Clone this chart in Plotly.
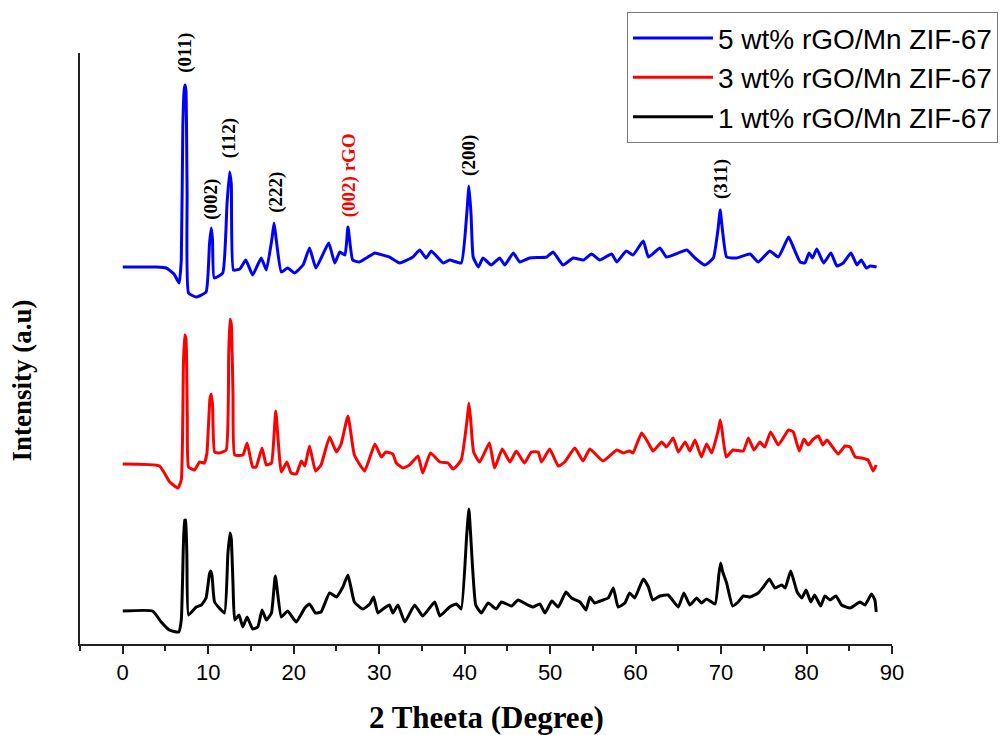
import plotly.graph_objects as go

# ---------------- data (2θ in degrees, intensity in a.u., stacked offsets included) -------------
theta_5 = [0.0, 3.9, 5.1, 6.0, 6.6, 6.85, 7.03, 7.2, 7.3, 7.4, 7.53, 7.7, 8.6, 9.75, 10.15, 10.35, 10.5, 10.7,
           11.7, 12.2, 12.5, 12.7, 12.95, 13.7, 14.4, 15.2, 16.2, 16.8, 17.45, 17.7, 17.95, 18.55, 19.3, 20.1,
           21.1, 21.85, 22.6, 24.1, 24.8, 25.4, 26.0, 26.35, 26.9, 27.7, 28.5, 29.5, 30.4, 31.2, 32.4, 33.95,
           34.75, 35.5, 36.1, 37.5, 38.25, 39.6, 40.25, 40.5, 40.75, 41.0, 41.6, 42.15, 43.1, 44.1, 44.7, 45.7,
           46.45, 47.6, 49.6, 50.35, 51.5, 52.7, 53.9, 54.85, 55.8, 57.2, 57.8, 58.9, 59.7, 60.9, 61.5, 62.85,
           63.6, 64.4, 66.0, 66.95, 68.1, 69.1, 69.65, 69.9, 70.15, 70.65, 71.8, 73.4, 74.35, 75.7, 76.7, 77.9,
           78.45, 79.25, 79.8, 80.3, 80.7, 81.2, 82.0, 82.85, 83.55, 84.3, 85.2, 85.9, 86.4, 87.0, 87.45, 88.2]
int_5 = [377, 377, 376, 370, 361, 384, 517, 555, 559, 553, 451, 351, 347, 352, 400, 416, 405, 366,
         371, 440, 472, 460, 374, 375, 384, 369, 386, 374, 405, 421, 405, 372, 376, 371,
         379, 396, 376, 401, 381, 392, 389, 417, 384, 382, 386, 391, 389, 387, 381, 387,
         394, 386, 393, 381, 384, 381, 430, 458, 430, 387, 377, 386, 379, 386, 379, 391,
         382, 386, 387, 392, 379, 386, 384, 390, 384, 390, 382, 393, 389, 403, 387, 396,
         387, 389, 394, 386, 379, 386, 415, 434, 415, 387, 386, 390, 382, 393, 387, 407,
         397, 382, 381, 391, 386, 395, 381, 391, 378, 381, 391, 379, 384, 376, 378, 377]

theta_3 = [0.0, 4.3, 5.5, 6.45, 6.85, 7.1, 7.25, 7.4, 7.55, 7.7, 8.4, 9.0, 9.55, 9.85, 10.2, 10.35, 10.5,
           10.75, 11.3, 12.1, 12.4, 12.55, 12.7, 12.9, 13.1, 14.05, 14.55, 15.2, 15.6, 16.3, 16.8, 17.4,
           17.9, 18.55, 19.2, 19.7, 20.3, 20.9, 21.3, 21.85, 22.55, 23.2, 24.2, 25.0, 25.55, 26.35, 27.1,
           28.3, 29.5, 30.25, 30.8, 31.6, 32.0, 32.8, 33.55, 34.55, 35.1, 36.0, 37.1, 38.05, 38.65, 39.6,
           40.3, 40.5, 40.7, 41.05, 41.75, 42.9, 43.5, 44.4, 45.3, 46.05, 47.0, 47.8, 48.6, 49.0, 49.95,
           50.95, 51.7, 52.9, 53.85, 54.65, 56.2, 57.8, 58.55, 59.3, 59.7, 60.7, 61.5, 62.05, 63.05, 63.6,
           64.4, 65.0, 65.8, 66.35, 66.95, 67.7, 68.3, 68.9, 69.7, 69.9, 70.1, 70.6, 71.4, 72.6, 73.2,
           73.85, 74.55, 75.1, 75.8, 76.7, 77.9, 78.45, 79.15, 79.7, 80.2, 80.8, 81.4, 81.9, 82.4, 83.7,
           84.5, 85.1, 85.7, 86.45, 87.2, 87.8, 88.15]
int_3 = [180, 178, 162, 156, 164, 280, 309, 305, 230, 177, 174, 182, 181, 191, 245, 250, 240,
         192, 191, 194, 290, 325, 320, 250, 189, 189, 201, 177, 177, 196, 179, 181,
         233, 172, 182, 171, 170, 183, 178, 198, 173, 179, 207, 192, 200, 228, 189,
         173, 200, 187, 192, 190, 181, 176, 179, 188, 171, 191, 182, 181, 175, 184,
         225, 241, 225, 192, 182, 201, 176, 195, 182, 193, 181, 192, 192, 182, 195,
         178, 182, 196, 183, 195, 183, 194, 191, 193, 191, 211, 201, 193, 202, 197,
         206, 192, 202, 193, 204, 187, 200, 191, 215, 224, 215, 187, 194, 193, 206,
         194, 202, 197, 212, 199, 214, 212, 193, 205, 199, 205, 208, 199, 204, 190,
         198, 197, 187, 186, 184, 173, 179]

theta_1 = [0.0, 3.5, 4.5, 5.45, 6.55, 6.85, 7.1, 7.25, 7.35, 7.5, 7.7, 8.6, 9.2, 9.75, 10.15, 10.3, 10.45,
           10.75, 11.9, 12.3, 12.55, 12.7, 12.9, 13.1, 13.6, 14.05, 14.55, 15.2, 15.8, 16.3, 16.8, 17.4,
           17.85, 18.55, 19.3, 20.3, 21.3, 21.85, 22.55, 23.2, 24.2, 25.0, 25.75, 26.35, 27.1, 28.1, 28.9,
           29.35, 29.85, 30.45, 31.2, 31.6, 32.2, 33.0, 34.15, 35.1, 36.5, 37.1, 38.25, 39.05, 39.6, 40.25,
           40.5, 40.7, 41.3, 41.95, 42.75, 43.7, 44.3, 45.5, 46.25, 47.4, 48.0, 48.8, 49.4, 50.2, 50.95,
           51.85, 52.5, 53.5, 54.2, 54.65, 55.2, 56.2, 56.8, 57.4, 57.95, 58.75, 59.3, 59.9, 60.9, 61.5,
           62.0, 62.85, 63.8, 65.0, 65.65, 66.35, 67.15, 67.7, 68.3, 69.3, 69.75, 69.95, 70.2, 70.65, 71.35,
           72.0, 72.6, 73.4, 74.35, 74.95, 75.65, 76.3, 77.1, 77.5, 78.15, 78.9, 79.45, 79.95, 80.5, 80.95,
           81.65, 82.15, 82.75, 83.45, 84.1, 85.1, 86.25, 86.85, 87.6, 88.0, 88.15]
int_1 = [33, 33, 22, 14, 12, 24, 100, 124, 124, 90, 29, 37, 39, 46, 70, 73, 68,
         42, 31, 90, 111, 105, 60, 24, 29, 17, 27, 15, 17, 34, 24, 31,
         68, 27, 33, 22, 36, 40, 31, 32, 51, 47, 57, 69, 42, 35, 40,
         47, 31, 35, 39, 31, 39, 22, 39, 28, 42, 28, 37, 40, 35, 110,
         135, 110, 39, 31, 41, 35, 42, 38, 44, 39, 37, 40, 31, 43, 37,
         52, 46, 42, 34, 47, 41, 44, 46, 56, 37, 41, 51, 46, 65, 57,
         44, 48, 49, 37, 51, 39, 46, 41, 45, 40, 70, 81, 72, 61, 38,
         42, 48, 47, 51, 57, 65, 56, 59, 56, 73, 52, 46, 54, 42, 49,
         38, 48, 44, 48, 39, 36, 42, 39, 50, 44, 32]

series_names = ["5 wt% rGO/Mn ZIF-67", "3 wt% rGO/Mn ZIF-67", "1 wt% rGO/Mn ZIF-67"]
series_colors = ["#0000FF", "#FF0000", "#000000"]

peak_labels = ["(011)", "(002)", "(112)", "(222)", "(002) rGO", "(200)", "(311)"]
peak_theta = [7.25, 10.3, 12.45, 17.9, 26.5, 40.5, 70.0]
peak_label_int = [591, 445, 506, 452, 469, 489, 465]
peak_label_colors = ["black", "black", "black", "black", "red", "black", "black"]

tick_vals = [0, 10, 20, 30, 40, 50, 60, 70, 80, 90]

# ---------------- figure -------------
fig = go.Figure()
for th, iy, name, col in zip([theta_5, theta_3, theta_1], [int_5, int_3, int_1], series_names, series_colors):
    fig.add_trace(go.Scatter(x=th, y=iy, mode="lines", name=name,
                             line=dict(color=col, width=3, shape="spline", smoothing=0.4)))

for lab, tx, ty, c in zip(peak_labels, peak_theta, peak_label_int, peak_label_colors):
    fig.add_annotation(x=tx, y=ty, text=lab, showarrow=False, textangle=-90,
                       xref="x", yref="y", xanchor="center", yanchor="middle",
                       font=dict(family="Liberation Serif", size=19, color=c, weight="bold"))

fig.add_annotation(text="2 Theeta (Degree)", xref="paper", yref="paper", x=0.5, y=-0.125,
                   showarrow=False, xanchor="center", yanchor="middle",
                   font=dict(family="Liberation Serif", size=31, color="black", weight="bold"))
fig.add_annotation(text="Intensity (a.u)", xref="paper", yref="paper", x=-0.072, y=0.445,
                   showarrow=False, xanchor="center", yanchor="middle", textangle=-90,
                   font=dict(family="Liberation Serif", size=27, color="black", weight="bold"))

fig.update_layout(
    width=1002, height=735,
    margin=dict(l=80, r=110, t=53, b=91, autoexpand=False),
    paper_bgcolor="white", plot_bgcolor="white",
    showlegend=True,
    legend=dict(x=1.1305, y=1.069, xanchor="right", yanchor="top",
                bgcolor="white", bordercolor="#777777", borderwidth=1,
                font=dict(family="Liberation Sans", size=28, color="black"),
                itemwidth=80, tracegroupgap=0),
    xaxis=dict(range=[-5, 90], tickvals=tick_vals, ticks="outside", ticklen=8, tickwidth=2,
               tickcolor="#222222", showline=True, linecolor="#222222", linewidth=2,
               showgrid=False, zeroline=False,
               tickfont=dict(family="Liberation Sans", size=22, color="black"),
               minor=dict(dtick=5, tick0=-5, ticks="outside", ticklen=5, tickwidth=2, tickcolor="#222222")),
    yaxis=dict(range=[0, 591], showticklabels=False, ticks="", showline=True, linecolor="#222222",
               linewidth=2, showgrid=False, zeroline=False),
)

fig.write_html("out.html")
